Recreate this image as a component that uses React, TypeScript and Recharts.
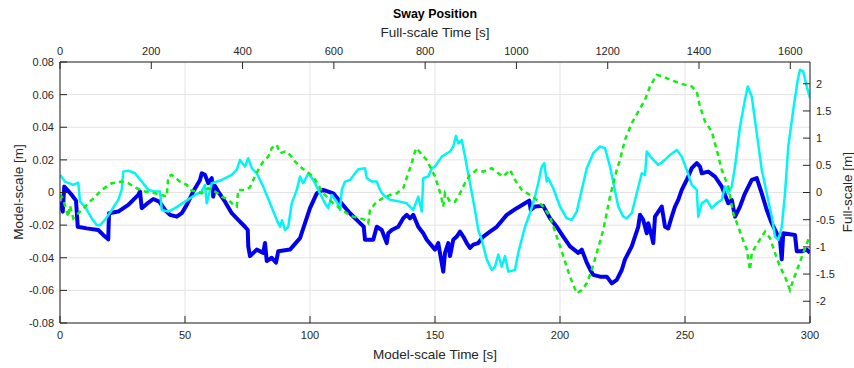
import React from 'react';
import { LineChart, Line, XAxis, YAxis, CartesianGrid } from 'recharts';

// Model-scale time [s] and sway [m] per run
const blueTime = [0, 1.1, 1.7, 4.7, 6.4, 7.1, 10.7, 15.3, 17.3, 19.3, 19.6, 23.3, 27.3, 31.3, 32, 32.7, 34.7, 37.3, 39.7, 42, 44, 46.7, 48.7, 50.7, 53.3, 56, 56.7, 58, 59.3, 60.7, 61.3, 62, 63.3, 66, 68.7, 71.3, 74, 75.1, 75.3, 76, 78.7, 81.3, 82, 82.7, 84.7, 86.4, 87.3, 92, 96, 100, 102.7, 105.3, 109.3, 112, 116, 120, 121.5, 122, 125.3, 126.7, 128.7, 130.7, 131.3, 132.7, 135.3, 137.3, 138.7, 140, 141.3, 143.3, 145.3, 146.7, 150, 151.3, 153.3, 154, 155.3, 156, 157.3, 158.7, 160, 161.3, 162.7, 164, 165.3, 167.3, 169.3, 172, 174.7, 178.7, 182.7, 186, 187.7, 188.3, 190, 193.3, 196, 198.7, 201.3, 204, 207.3, 208.7, 210.7, 212, 213.3, 216, 218.7, 220.7, 222.7, 224.7, 226, 228.7, 231.3, 232, 233.3, 234.7, 235.3, 236.7, 237.3, 238, 240.7, 242, 243.3, 244.7, 246, 247.3, 248.7, 250.7, 252.7, 254.7, 256, 256.7, 259.3, 262, 264.7, 267.3, 268.7, 270, 272, 274, 276.7, 278.7, 280.7, 282.7, 284.7, 286.7, 288, 288.7, 289.3, 294, 294.7, 296.7, 298.7, 300];
const blueSway = [-0.0056, -0.0117, 0.0036, -0.0015, -0.005, -0.021, -0.022, -0.023, -0.026, -0.0287, -0.0127, -0.0117, -0.0076, -0.0015, 0.0006, -0.0096, -0.007, -0.004, -0.0056, -0.0107, -0.0137, -0.0148, -0.0127, -0.0076, 0.0006, 0.0077, 0.0118, 0.0108, 0.0057, 0.0088, -0.0025, 0.004, 0.0006, -0.0056, -0.0127, -0.0168, -0.021, -0.023, -0.033, -0.039, -0.035, -0.037, -0.031, -0.042, -0.04, -0.043, -0.036, -0.035, -0.028, -0.0096, -0.0005, 0.0016, -0.0005, -0.0056, -0.0127, -0.0188, -0.021, -0.029, -0.029, -0.021, -0.023, -0.031, -0.025, -0.023, -0.021, -0.0158, -0.0137, -0.0158, -0.0137, -0.021, -0.025, -0.029, -0.035, -0.031, -0.0485, -0.037, -0.031, -0.039, -0.029, -0.027, -0.024, -0.027, -0.031, -0.034, -0.032, -0.031, -0.027, -0.024, -0.021, -0.0137, -0.0096, -0.0066, -0.005, -0.0107, -0.0086, -0.0082, -0.0158, -0.021, -0.027, -0.033, -0.037, -0.035, -0.043, -0.047, -0.0505, -0.0516, -0.0516, -0.0557, -0.0536, -0.0475, -0.041, -0.033, -0.021, -0.0137, -0.0168, -0.025, -0.0188, -0.027, -0.031, -0.0148, -0.0086, -0.021, -0.022, -0.0148, -0.0086, -0.0045, 0.0016, 0.0077, 0.0149, 0.018, 0.0159, 0.0118, 0.0128, 0.0098, 0.0036, -0.0066, -0.0045, -0.0148, -0.0086, -0.0005, 0.0077, 0.0088, -0.0005, -0.0107, -0.0188, -0.025, -0.029, -0.041, -0.025, -0.026, -0.036, -0.036, -0.035, -0.037];

const cyanTime = [0, 2, 5.3, 7.3, 8, 10, 12.7, 14.7, 16, 18, 20.7, 23.3, 24.7, 25.3, 27.3, 30, 32.7, 35.3, 38, 40, 40.7, 43.3, 46, 50, 54, 56.7, 58, 58.7, 60.7, 64.7, 68.7, 70.7, 72, 74, 75.3, 76.7, 78.7, 81.3, 84, 86.7, 88, 88.8, 90, 91.3, 92.7, 94.7, 96, 97.3, 99.3, 101.3, 104, 106, 107.3, 108.7, 110.7, 112, 112.7, 114, 116, 119.3, 122, 122.7, 124.7, 126.7, 128, 129.3, 132, 136, 138.7, 141.3, 143.3, 144.7, 145.3, 147.3, 148.7, 150, 152.7, 156, 157.3, 158.4, 159.3, 160.7, 162, 164, 166, 167.3, 168.7, 170.7, 172.7, 174, 175.3, 176.7, 178, 179.3, 182, 183.3, 186, 188, 190, 191.3, 192.7, 193.7, 194.7, 195.2, 197.3, 200, 202.7, 204.7, 206.7, 208.7, 210.7, 213.3, 216, 218, 220, 222, 223.3, 225.3, 226.7, 228.7, 230.7, 232.7, 234, 234.7, 236.7, 239.3, 242, 244, 246.7, 248.7, 250.7, 252.7, 254.7, 255.3, 256.7, 258.7, 260.7, 262.7, 264.7, 266, 267.3, 268.7, 270, 272, 274, 275.1, 276.7, 278.7, 280.7, 282.7, 284.7, 286, 287.3, 288.7, 290, 291.3, 293.3, 295.1, 296, 297.3, 298.7, 300];
const cyanSway = [0.0108, 0.0067, 0.0047, 0.006, -0.0056, -0.0086, -0.0158, -0.02, -0.02, -0.0168, -0.0107, -0.0045, 0.0016, 0.0128, 0.0134, 0.0118, 0.0067, 0.0016, 0.0006, 0.0006, -0.0107, -0.0117, -0.0096, -0.0056, -0.0015, 0.0006, 0.0047, -0.0066, 0.0057, 0.0077, 0.0108, 0.0139, 0.02, 0.0159, 0.021, 0.0149, 0.0118, 0.0036, -0.0066, -0.0168, -0.021, -0.017, -0.023, -0.021, -0.0066, 0.0016, 0.0098, 0.0057, 0.0118, 0.0077, -0.0005, -0.0066, -0.0096, -0.0015, -0.0056, -0.0107, 0.0016, 0.0067, 0.0077, 0.0143, 0.0149, 0.0088, 0.0067, 0.0067, 0.0016, -0.0015, -0.0045, -0.0056, -0.0066, -0.0107, -0.0025, -0.0117, 0.0088, 0.0098, 0.0149, 0.0159, 0.022, 0.0251, 0.0282, 0.0347, 0.0302, 0.0323, 0.022, 0.0057, -0.0107, -0.023, -0.029, -0.041, -0.0475, -0.0455, -0.038, -0.0455, -0.039, -0.0485, -0.0475, -0.037, -0.021, -0.0127, -0.0025, 0.0057, 0.0159, 0.018, 0.0067, 0.009, 0.0026, -0.0086, -0.0158, -0.0168, -0.0117, 0.0016, 0.0149, 0.0241, 0.0282, 0.0272, 0.0159, 0.001, -0.0086, -0.0148, -0.0158, -0.0127, -0.0005, 0.0118, 0.0108, 0.0251, 0.021, 0.0169, 0.02, 0.023, 0.0261, 0.022, 0.0139, 0.0047, 0.0016, -0.0148, -0.0066, -0.0045, -0.0096, -0.0066, -0.0045, 0.0036, -0.0005, 0.0036, 0.0159, 0.0404, 0.0568, 0.065, 0.0588, 0.0364, 0.0139, -0.0005, -0.0148, -0.027, -0.029, -0.021, -0.0005, 0.0282, 0.0507, 0.0691, 0.0752, 0.0742, 0.065, 0.058];

const greenTime = [0, 1.3, 3.3, 4, 5.3, 8.7, 12.7, 16.7, 20.7, 24.7, 27.3, 30.7, 34, 38, 40.7, 42.7, 43.3, 44.7, 48, 50.7, 52, 56.7, 59.3, 62, 64.7, 67.3, 69.3, 70.7, 71.3, 74, 76, 77.3, 79.3, 81.3, 83.3, 84.7, 86.7, 88, 90, 92, 94, 96, 98.7, 101.3, 103.3, 105.3, 107.3, 109.3, 112, 114.7, 117.3, 120, 122, 123.3, 124, 126.7, 129.3, 132, 134.7, 137.3, 139.3, 140.7, 142, 142.7, 144.7, 146.7, 148, 150, 151.3, 152.4, 153.3, 154, 156, 158, 160, 162, 164, 166.7, 169.3, 172.7, 175.3, 177.3, 180, 182, 184.7, 188, 190.7, 193.3, 196, 198.7, 201.3, 204, 206.7, 208.7, 210.7, 212.7, 214.7, 217.3, 220, 222.7, 224, 226, 228.7, 231.3, 234, 236, 238.7, 241.3, 244.7, 248.7, 252.7, 254.7, 256, 258, 260.7, 262.7, 264.7, 267.3, 269.3, 271.3, 272.7, 274.7, 276, 276.7, 278.7, 280.7, 282, 284, 286, 288, 290, 292, 293.3, 295.3, 297.3, 299.3, 300];
const greenSway = [-0.001, -0.0045, -0.0148, -0.008, -0.0158, -0.0107, -0.0045, 0.0016, 0.0057, 0.0067, 0.0057, 0.0026, 0.0006, -0.0005, -0.0015, -0.0025, 0.0098, 0.0108, 0.0067, 0.0047, 0.0016, -0.0005, 0.0026, 0.0006, -0.0025, -0.0045, -0.0076, -0.0086, 0.0016, 0.0016, 0.0032, 0.0077, 0.0139, 0.019, 0.022, 0.0272, 0.0292, 0.0241, 0.0251, 0.0231, 0.019, 0.0159, 0.0128, 0.0098, 0.0047, -0.0005, -0.0035, -0.0066, -0.0096, -0.0127, -0.0148, -0.0158, -0.0168, -0.0188, -0.0107, -0.0056, -0.0035, -0.0015, -0.0005, 0.0026, 0.0118, 0.018, 0.0251, 0.0272, 0.0231, 0.02, 0.0159, 0.0098, 0.0036, -0.002, -0.0086, -0.0005, -0.0056, -0.0056, -0.0005, 0.0057, 0.0108, 0.0139, 0.0128, 0.0149, 0.0118, 0.0098, 0.0139, 0.0077, 0.0016, -0.0015, -0.0045, -0.0086, -0.0148, -0.027, -0.039, -0.0516, -0.0618, -0.0598, -0.0557, -0.0475, -0.037, -0.023, -0.0025, 0.0139, 0.02, 0.0323, 0.0425, 0.0496, 0.0568, 0.065, 0.0721, 0.0711, 0.0687, 0.0666, 0.065, 0.0619, 0.0527, 0.0435, 0.0374, 0.0261, 0.0139, 0.0036, -0.0127, -0.021, -0.027, -0.035, -0.0475, -0.037, -0.032, -0.027, -0.024, -0.028, -0.037, -0.0455, -0.0516, -0.0598, -0.0536, -0.0455, -0.037, -0.029, -0.026];

// Axis ticks
const modelTimeTicks = [0, 50, 100, 150, 200, 250, 300];
const fullTimeTicks = [0, 200, 400, 600, 800, 1000, 1200, 1400, 1600];
const modelSwayTicks = [-0.08, -0.06, -0.04, -0.02, 0, 0.02, 0.04, 0.06, 0.08];
const fullSwayTicks = [-2, -1.5, -1, -0.5, 0, 0.5, 1, 1.5, 2];

const lengthScale = 30;
const timeScale = Math.sqrt(lengthScale);

const toData = (ts: number[], vs: number[]) => ts.map((t, i) => ({ t, v: vs[i] }));
const blueData = toData(blueTime, blueSway);
const cyanData = toData(cyanTime, cyanSway);
const greenData = toData(greenTime, greenSway);
// same run expressed in full-scale units (drawn invisibly, binds the top/right axes)
const blueFullData = blueTime.map((t, i) => ({ ft: t * timeScale, fv: blueSway[i] * lengthScale }));

const FONT = '"Liberation Sans", Arial, Helvetica, sans-serif';
const TXT = '#262626';
const tickStyle = { fontSize: 11, fill: TXT, fontFamily: FONT };
const axisLine = { stroke: TXT, strokeWidth: 1 };

const fmtModel = (v: number) => (Math.abs(v) < 1e-9 ? '0' : v.toFixed(2));
const fmtFull = (v: number) => String(v);

export default function App() {
  return (
    <div style={{ position: 'absolute', left: 0, top: 0, width: 854, height: 368, background: '#fff' }}>
      <LineChart width={854} height={368} margin={{ top: 0, right: 0, bottom: 0, left: 0 }}>
        <CartesianGrid xAxisId="bottom" yAxisId="left" stroke="#e3e3e3" strokeWidth={1} />
        <XAxis
          xAxisId="bottom"
          dataKey="t"
          type="number"
          domain={[0, 300]}
          ticks={modelTimeTicks}
          allowDataOverflow
          height={45}
          tickSize={-7}
          tickMargin={15}
          tick={tickStyle}
          axisLine={axisLine}
          tickLine={{ stroke: TXT }}
          interval={0}
        />
        <XAxis
          xAxisId="top"
          dataKey="ft"
          orientation="top"
          type="number"
          domain={[0, 300 * timeScale]}
          ticks={fullTimeTicks}
          allowDataOverflow
          height={62}
          tickSize={-7}
          tickMargin={14}
          tick={tickStyle}
          axisLine={axisLine}
          tickLine={{ stroke: TXT }}
          interval={0}
        />
        <YAxis
          yAxisId="left"
          type="number"
          domain={[-0.08, 0.08]}
          ticks={modelSwayTicks}
          allowDataOverflow
          width={60}
          tickSize={-7}
          tickMargin={13}
          tick={tickStyle}
          tickFormatter={fmtModel}
          axisLine={axisLine}
          tickLine={{ stroke: TXT }}
          interval={0}
        />
        <YAxis
          yAxisId="right"
          orientation="right"
          type="number"
          domain={[-0.08 * lengthScale, 0.08 * lengthScale]}
          ticks={fullSwayTicks}
          allowDataOverflow
          width={44}
          tickSize={-7}
          tickMargin={13}
          tick={tickStyle}
          tickFormatter={fmtFull}
          axisLine={axisLine}
          tickLine={{ stroke: TXT }}
          interval={0}
        />
        <Line
          xAxisId="top"
          yAxisId="right"
          data={blueFullData}
          dataKey="fv"
          type="linear"
          stroke="none"
          strokeWidth={0}
          dot={false}
          activeDot={false}
          isAnimationActive={false}
        />
        <Line
          xAxisId="bottom"
          yAxisId="left"
          data={blueData}
          dataKey="v"
          type="linear"
          stroke="#0000ee"
          strokeWidth={4}
          dot={false}
          activeDot={false}
          isAnimationActive={false}
          strokeLinejoin="round"
        />
        <Line
          xAxisId="bottom"
          yAxisId="left"
          data={cyanData}
          dataKey="v"
          type="linear"
          stroke="#00f5f5"
          strokeWidth={2.5}
          dot={false}
          activeDot={false}
          isAnimationActive={false}
          strokeLinejoin="round"
        />
        <Line
          xAxisId="bottom"
          yAxisId="left"
          data={greenData}
          dataKey="v"
          type="linear"
          stroke="#11ee11"
          strokeWidth={2.5}
          strokeDasharray="5 4"
          dot={false}
          activeDot={false}
          isAnimationActive={false}
        />
      </LineChart>
      <svg
        width={854}
        height={368}
        style={{ position: 'absolute', left: 0, top: 0, pointerEvents: 'none' }}
      >
        <text x={435} y={14} textAnchor="middle" dominantBaseline="central" fontFamily={FONT} fontSize={12.4} fontWeight="bold" fill="#000">
          Sway Position
        </text>
        <text x={435} y={32} textAnchor="middle" dominantBaseline="central" fontFamily={FONT} fontSize={13.5} fill={TXT}>
          Full-scale Time [s]
        </text>
        <text x={435} y={354} textAnchor="middle" dominantBaseline="central" fontFamily={FONT} fontSize={13.5} fill={TXT}>
          Model-scale Time [s]
        </text>
        <text x={18} y={192} textAnchor="middle" dominantBaseline="central" fontFamily={FONT} fontSize={13.5} fill={TXT} transform="rotate(-90 18 192)">
          Model-scale [m]
        </text>
        <text x={847} y={192} textAnchor="middle" dominantBaseline="central" fontFamily={FONT} fontSize={13.5} fill={TXT} transform="rotate(-90 847 192)">
          Full-scale [m]
        </text>
      </svg>
    </div>
  );
}
